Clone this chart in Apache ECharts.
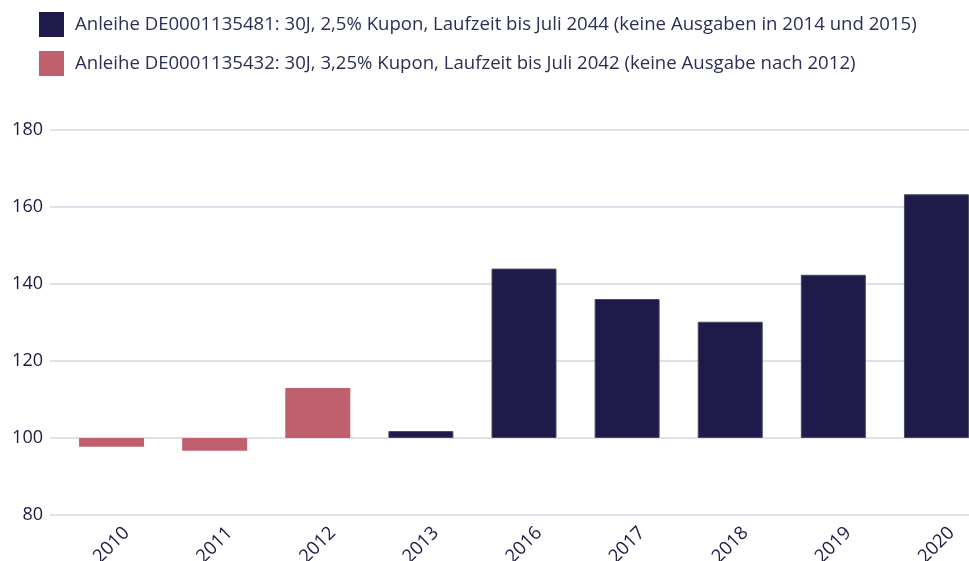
<!DOCTYPE html>
<html>
<head>
<meta charset="utf-8">
<script src="https://cdn.jsdelivr.net/npm/echarts@6/dist/echarts.min.js"></script>
<style>
html,body{margin:0;padding:0;background:#fff;}
#chart{width:969px;height:561px;}
</style>
</head>
<body>
<div id="chart"></div>
<script>
var categories = ['2010','2011','2012','2013','2016','2017','2018','2019','2020'];
var bond2044 = [null, null, null, 101.8, 144.0, 136.1, 130.2, 142.4, 163.3];
var bond2042 = [97.7, 96.7, 113.0, null, null, null, null, null, null];
var baseline = 100;
var yTicks = {min: 80, max: 180, interval: 20};
var name2044 = 'Anleihe DE0001135481: 30J, 2,5% Kupon, Laufzeit bis Juli 2044 (keine Ausgaben in 2014 und 2015)';
var name2042 = 'Anleihe DE0001135432: 30J, 3,25% Kupon, Laufzeit bis Juli 2042 (keine Ausgabe nach 2012)';

var baseData = categories.map(function(c, i){
  var v = bond2044[i] != null ? bond2044[i] : bond2042[i];
  return Math.min(v, baseline);
});
var d2044 = bond2044.map(function(v){ return v == null ? null : +Math.abs(v - baseline).toFixed(2); });
var d2042 = bond2042.map(function(v){ return v == null ? null : +Math.abs(v - baseline).toFixed(2); });

var FONT = '"Open Sans", "Noto Sans", sans-serif';
var chart = echarts.init(document.getElementById('chart'), null, {renderer: 'canvas'});
chart.setOption({
  animation: false,
  backgroundColor: '#ffffff',
  legend: {
    orient: 'vertical', left: 39, top: 12, padding: 0,
    itemWidth: 25, itemHeight: 25, itemGap: 14,
    icon: 'rect',
    itemStyle: {borderWidth: 0},
    textStyle: {fontFamily: FONT, fontSize: 18.6, color: '#2b2f55', padding: [0,0,0,6]},
    data: [name2044, name2042]
  },
  grid: [
    {left: 50, right: 0, top: 130, bottom: 46, outerBoundsMode: 'none', containLabel: false},
    {left: 60, right: -19, top: 130, bottom: 46, outerBoundsMode: 'none', containLabel: false}
  ],
  xAxis: [
    {type: 'category', gridIndex: 0, data: categories, show: false},
    {type: 'category', gridIndex: 1, data: categories,
     axisLine: {show: false}, axisTick: {show: false},
     axisLabel: {rotate: 45, align: 'center', verticalAlign: 'middle', margin: 30,
       fontFamily: FONT, fontSize: 18.5, color: '#1c1a45'}}
  ],
  yAxis: [
    {type: 'value', gridIndex: 0, min: yTicks.min, max: yTicks.max, interval: yTicks.interval,
     axisLine: {show: false}, axisTick: {show: false},
     splitLine: {lineStyle: {color: '#d7d5e6', width: 1.5}},
     axisLabel: {margin: 7, fontFamily: FONT, fontSize: 18, color: '#1c1a45'}},
    {type: 'value', gridIndex: 1, min: yTicks.min, max: yTicks.max, interval: yTicks.interval,
     show: false, splitLine: {show: false}}
  ],
  series: [
    {type: 'bar', name: 'base', xAxisIndex: 1, yAxisIndex: 1, stack: 'b', barWidth: 65,
     data: baseData, itemStyle: {color: 'rgba(0,0,0,0)'}, silent: true},
    {type: 'bar', name: name2044, xAxisIndex: 1, yAxisIndex: 1, stack: 'b', barWidth: 65,
     data: d2044, itemStyle: {color: '#1e1b4b', borderColor: '#4a4a5a', borderWidth: 1}},
    {type: 'bar', name: name2042, xAxisIndex: 1, yAxisIndex: 1, stack: 'b', barWidth: 65,
     data: d2042, itemStyle: {color: '#c0606f'}}
  ]
});
</script>
</body>
</html>
